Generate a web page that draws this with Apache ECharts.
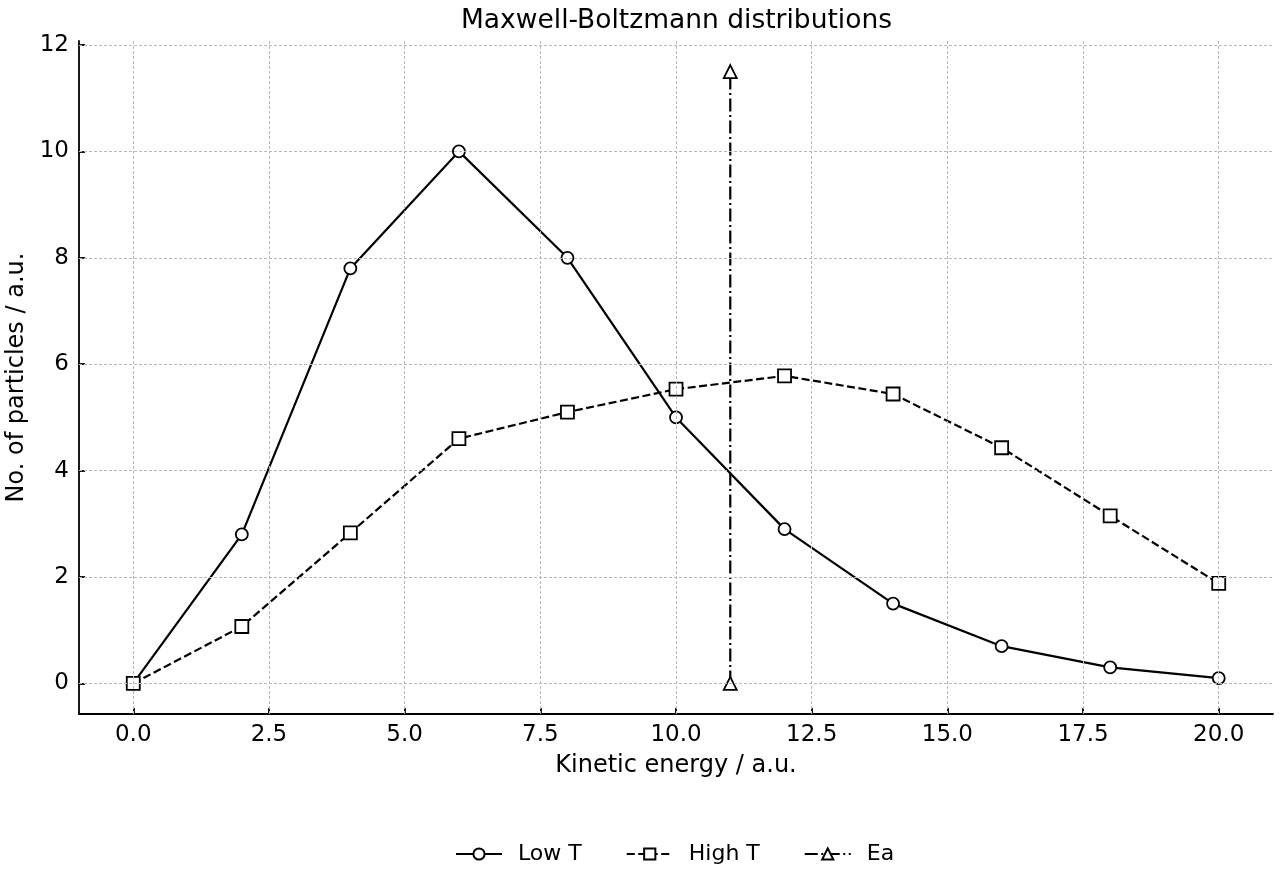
<!DOCTYPE html>
<html>
<head>
<meta charset="utf-8">
<script src="https://cdn.jsdelivr.net/npm/echarts@6/dist/echarts.min.js"></script>
<style>
  html, body { margin: 0; padding: 0; background: #fff; }
  #chart { width: 1280px; height: 880px; }
</style>
</head>
<body>
<div id="chart"></div>
<script>
// energies (a.u.)
const energy = [0, 2, 4, 6, 8, 10, 12, 14, 16, 18, 20];
const lowT = [0, 2.8, 7.8, 10, 8, 5, 2.9, 1.5, 0.7, 0.3, 0.1];
const highT = [0, 1.07, 2.83, 4.6, 5.1, 5.53, 5.78, 5.44, 4.43, 3.15, 1.88];
const eaX = [11, 11];
const eaY = [0, 11.5];
const xTicks = [0, 2.5, 5, 7.5, 10, 12.5, 15, 17.5, 20];
const yTicks = [0, 2, 4, 6, 8, 10, 12];

const font = 'DejaVu Sans';
const pairs = (xs, ys) => xs.map((x, i) => [x, ys[i]]);

const chart = echarts.init(document.getElementById('chart'));

// grid lines drawn as marklines so they sit on the tick values
const gridLines = [
  ...xTicks.map(v => ({ xAxis: v })),
  ...yTicks.map(v => ({ yAxis: v }))
];

const option = {
  animation: false,
  textStyle: { fontFamily: font, color: '#000' },
  title: {
    text: 'Maxwell-Boltzmann distributions',
    left: 456,
    top: 3,
    textStyle: { fontFamily: font, fontSize: 26.5, fontWeight: 'normal', color: '#000' }
  },
  grid: { left: 79, right: 7, top: 41, bottom: 166, outerBoundsMode: 'none', containLabel: false },
  legend: {
    bottom: 10,
    left: 450,
    itemWidth: 46,
    itemHeight: 14,
    itemGap: 44,
    textStyle: { fontFamily: font, fontSize: 22, color: '#000', padding: [0, 0, 0, 11] },
    data: ['Low T', 'High T', 'Ea']
  },
  xAxis: {
    type: 'value',
    min: -1,
    max: 21,
    name: 'Kinetic energy / a.u.',
    nameLocation: 'middle',
    nameGap: 40,
    nameTextStyle: { fontFamily: font, fontSize: 24, color: '#000' },
    axisLine: { onZero: false, lineStyle: { color: '#000', width: 1.8 } },
    axisTick: { inside: true, length: 6, customValues: xTicks, lineStyle: { color: '#000', width: 1.8 } },
    axisLabel: {
      customValues: xTicks,
      fontSize: 23, color: '#000', margin: 10,
      formatter: v => v.toFixed(1)
    },
    splitLine: { show: false }
  },
  yAxis: {
    type: 'value',
    min: -0.575,
    max: 12.075,
    name: 'No. of particles / a.u.',
    nameLocation: 'middle',
    nameGap: 48,
    nameTextStyle: { fontFamily: font, fontSize: 24, color: '#000' },
    axisLine: { show: true, onZero: false, lineStyle: { color: '#000', width: 1.8 } },
    axisTick: { show: true, inside: true, length: 6, customValues: yTicks, lineStyle: { color: '#000', width: 1.8 } },
    axisLabel: {
      customValues: yTicks,
      fontSize: 23, color: '#000', margin: 10,
      formatter: v => String(Math.round(v))
    },
    splitLine: { show: false }
  },
  series: [
    {
      name: 'grid',
      type: 'line',
      data: [],
      silent: true,
      z: 0,
      markLine: {
        silent: true,
        symbol: 'none',
        label: { show: false },
        lineStyle: { color: '#b8b8b8', width: 1, type: [3, 2] },
        data: gridLines
      }
    },
    {
      name: 'Low T',
      type: 'line',
      data: pairs(energy, lowT),
      symbol: 'circle',
      symbolSize: 12,
      z: 3,
      lineStyle: { color: '#000', width: 2.2 },
      itemStyle: { color: '#fff', borderColor: '#000', borderWidth: 1.8 }
    },
    {
      name: 'High T',
      type: 'line',
      data: pairs(energy, highT),
      symbol: 'rect',
      symbolSize: 13,
      z: 3,
      lineStyle: { color: '#000', width: 2.2, type: [8, 3.5] },
      itemStyle: { color: '#fff', borderColor: '#000', borderWidth: 1.8 }
    },
    {
      name: 'Ea',
      type: 'line',
      data: pairs(eaX, eaY),
      symbol: 'triangle',
      symbolSize: 13,
      z: 4,
      lineStyle: { color: '#000', width: 2.2, type: [13, 3.5, 2, 3.5] },
      itemStyle: { color: '#fff', borderColor: '#000', borderWidth: 1.8 }
    }
  ]
};

chart.setOption(option);
</script>
</body>
</html>
